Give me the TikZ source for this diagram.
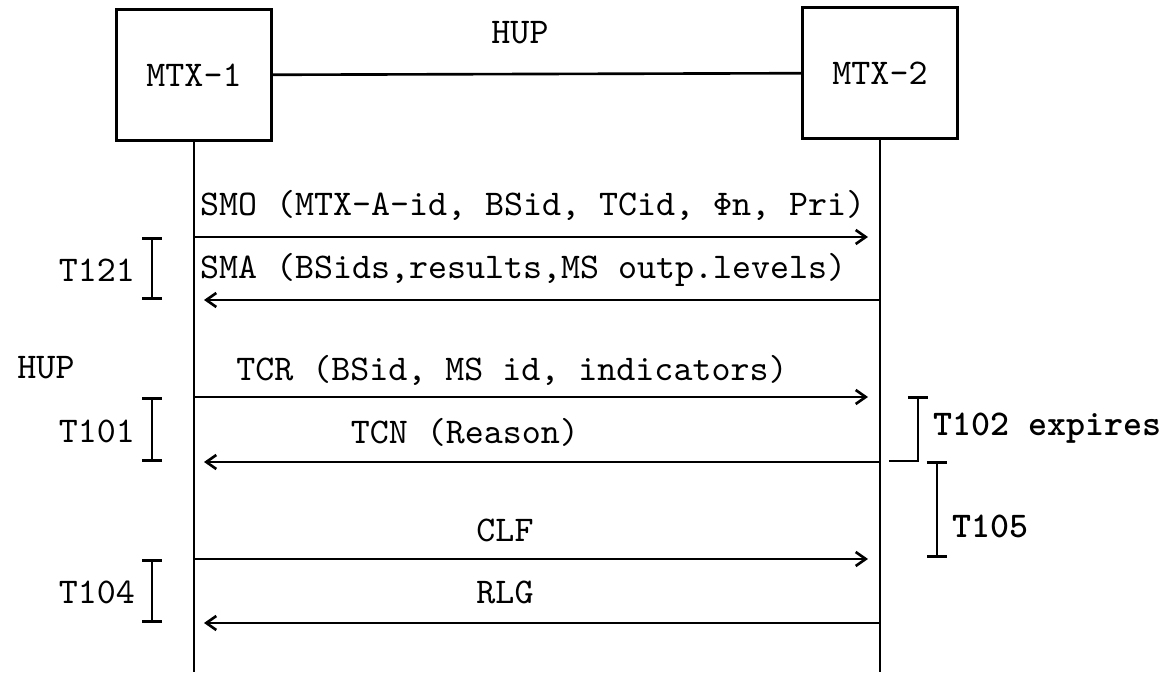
\documentclass[tikz,border=0pt]{standalone}
\usepackage{fontspec}
\usetikzlibrary{arrows.meta, positioning}

\begin{document}
\begin{tikzpicture}[
    font=\ttfamily\fontsize{10.3}{12}\selectfont,
    line width=0.75pt,
    mtx/.style={draw, minimum width=1.55cm, minimum height=1.31cm},
    msg/.style={-{Straight Barb[length=1mm, width=1.4mm]}},
    timer/.style={{Bar[width=2mm]}-{Bar[width=2mm]}},
    boldlabel/.style={anchor=west, font=\ttfamily\bfseries\fontsize{10.3}{12}\selectfont},
]
    \useasboundingbox (0,0) rectangle (11.62,-6.73);

    % 1. Hai tổng đài và liên kết HUP
    \node[mtx] (mtx1) at (1.94,-0.75) {MTX-1};
    \node[mtx] (mtx2) at (8.80,-0.73) {MTX-2};
    \draw (mtx1) -- (mtx2);
    \node (hup) at (5.20,-0.33) {HUP};

    % 2. Đường thời gian của mỗi tổng đài
    \coordinate (end1) at (1.94,-6.72);
    \coordinate (end2) at (8.80,-6.72);
    \draw (mtx1.south) -- (end1);
    \draw (mtx2.south) -- (end2);

    % 3. Các điểm đầu mút của bản tin
    \foreach \name/\y in {smo/2.37, sma/3.00, tcr/3.97, tcn/4.62, clf/5.59, rlg/6.23} {
        \coordinate (\name-a) at (1.94,-\y);
        \coordinate (\name-b) at (8.80,-\y);
    }

    % 4. Bản tin giữa MTX-1 và MTX-2
    \draw[msg] (smo-a) -- ([xshift=-1.2mm]smo-b);
    \draw[msg] (sma-b) -- ([xshift=1mm]sma-a);
    \draw[msg] (tcr-a) -- ([xshift=-1.2mm]tcr-b);
    \draw[msg] (tcn-b) -- ([xshift=1mm]tcn-a);
    \draw[msg] (clf-a) -- ([xshift=-1.2mm]clf-b);
    \draw[msg] (rlg-b) -- ([xshift=1mm]rlg-a);

    \node[anchor=west] (smo) at (1.87,-2.05) {SMO (MTX-A-id, BSid, TCid, Φn, Pri)};
    \node[anchor=west] (sma) at (1.87,-2.70) {SMA (BSids,results,MS outp.levels)};
    \node (tcr) at (5.12,-3.70) {TCR (BSid, MS id, indicators)};
    \node (tcn) at (4.65,-4.32) {TCN (Reason)};
    \node (clf) at (5.05,-5.30) {CLF};
    \node (rlg) at (5.05,-5.92) {RLG};
    \node (hupl) at (0.46,-3.68) {HUP};

    % 5. Các bộ định thời
    \draw[timer] (1.52,-2.37) -- (1.52,-3.00);
    \node[anchor=east] (t121) at (1.48,-2.70) {T121};
    \draw[timer] (1.52,-3.97) -- (1.52,-4.62);
    \node[anchor=east] (t101) at (1.48,-4.31) {T101};
    \draw[timer] (1.52,-5.59) -- (1.52,-6.23);
    \node[anchor=east] (t104) at (1.48,-5.92) {T104};

    \draw[-{Bar[width=2mm]}] (8.89,-4.61) -| (9.18,-3.96);
    \node[boldlabel] (t102) at (9.20,-4.28) {T102 expires};
    \draw[timer] (9.37,-4.61) -- (9.37,-5.58);
    \node[boldlabel] (t105) at (9.39,-5.26) {T105};
\end{tikzpicture}
\end{document}
